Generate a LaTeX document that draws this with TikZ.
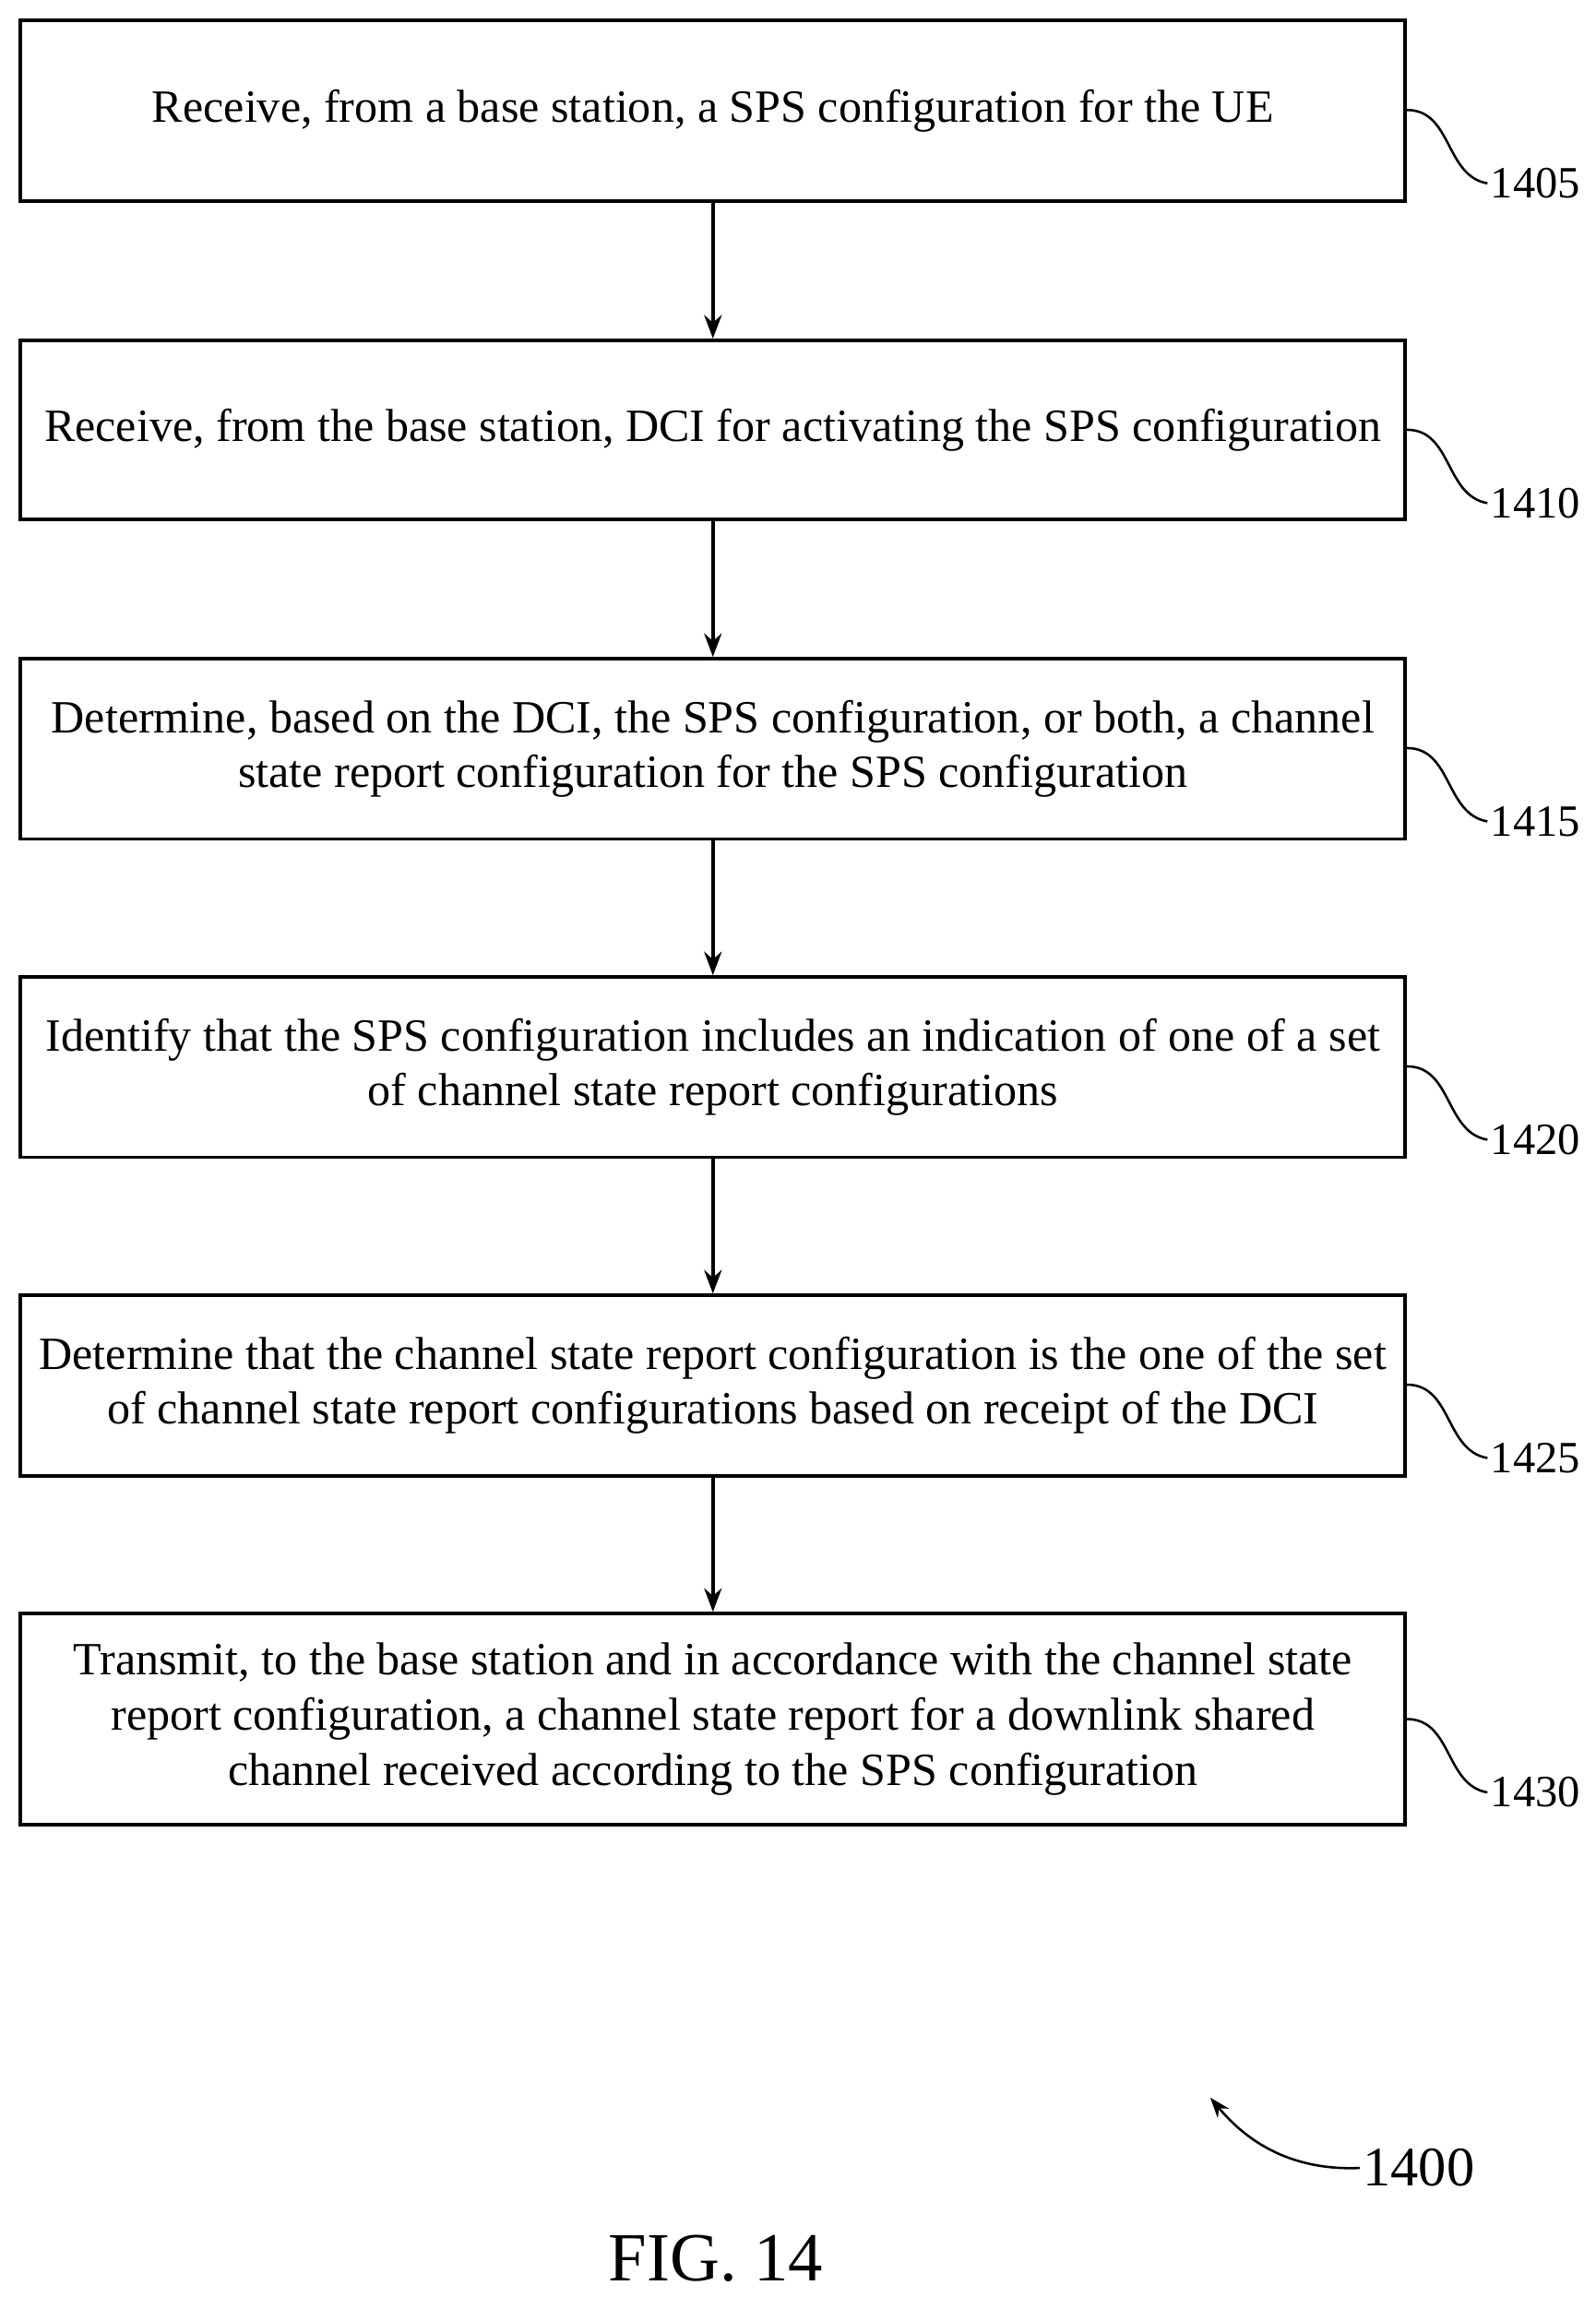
\documentclass[tikz,border=0pt]{standalone}
\usepackage{fontspec}
\setmainfont{Liberation Serif}
\usetikzlibrary{arrows.meta}
\begin{document}
\begin{tikzpicture}[x=1pt,y=-1pt,
 box/.style={draw,line width=2.4pt,minimum width=944pt,align=center,font=\fontsize{31.5}{37.5}\selectfont,inner sep=0pt},
 arr/.style={-{Stealth[length=16pt,width=12pt]},line width=2.2pt},
 lab/.style={font=\fontsize{30.5}{32}\selectfont},
 sq/.style={line width=1.6pt}]
\useasboundingbox (0,0) rectangle (1088,1566);
\node[box,minimum height=123pt] (b1) at (486,75.5) {Receive, from a base station, a SPS configuration for the UE};
\node[box,minimum height=122pt] (b2) at (486,293) {Receive, from the base station, DCI for activating the SPS configuration};
\node[box,minimum height=123pt] (b3) at (486,510.5) {Determine, based on the DCI, the SPS configuration, or both, a channel\\state report configuration for the SPS configuration};
\node[box,minimum height=123pt] (b4) at (486,727.5) {Identify that the SPS configuration includes an indication of one of a set\\of channel state report configurations};
\node[box,minimum height=123pt] (b5) at (486,944.5) {Determine that the channel state report configuration is the one of the set\\of channel state report configurations based on receipt of the DCI};
\node[box,minimum height=144pt] (b6) at (486,1172) {Transmit, to the base station and in accordance with the channel state\\report configuration, a channel state report for a downlink shared\\channel received according to the SPS configuration};
\draw[arr] (b1) -- (b2);
\draw[arr] (b2) -- (b3);
\draw[arr] (b3) -- (b4);
\draw[arr] (b4) -- (b5);
\draw[arr] (b5) -- (b6);
\foreach \b/\n/\y in {b1/1405/75,b2/1410/293,b3/1415/510,b4/1420/727,b5/1425/944,b6/1430/1172}{
 \node[lab,anchor=west,inner sep=2pt] (l\n) at (1014,\y+50) {\n};
 \draw[sq] (\b.east |- 0,\y) .. controls (990,\y) and (985,\y+45) .. (l\n.west);
}
\node[font=\fontsize{38}{40}\selectfont,anchor=west,inner sep=2pt] (l1400) at (927,1478) {1400};
\coordinate (t1400) at (825,1430);
\draw[sq,-{Stealth[length=14pt,width=10pt]}] (l1400.west) .. controls (880,1480) and (850,1460) .. (t1400);
\node[font=\fontsize{47}{50}\selectfont] (fig) at (488,1540) {FIG. 14};
\end{tikzpicture}
\end{document}
